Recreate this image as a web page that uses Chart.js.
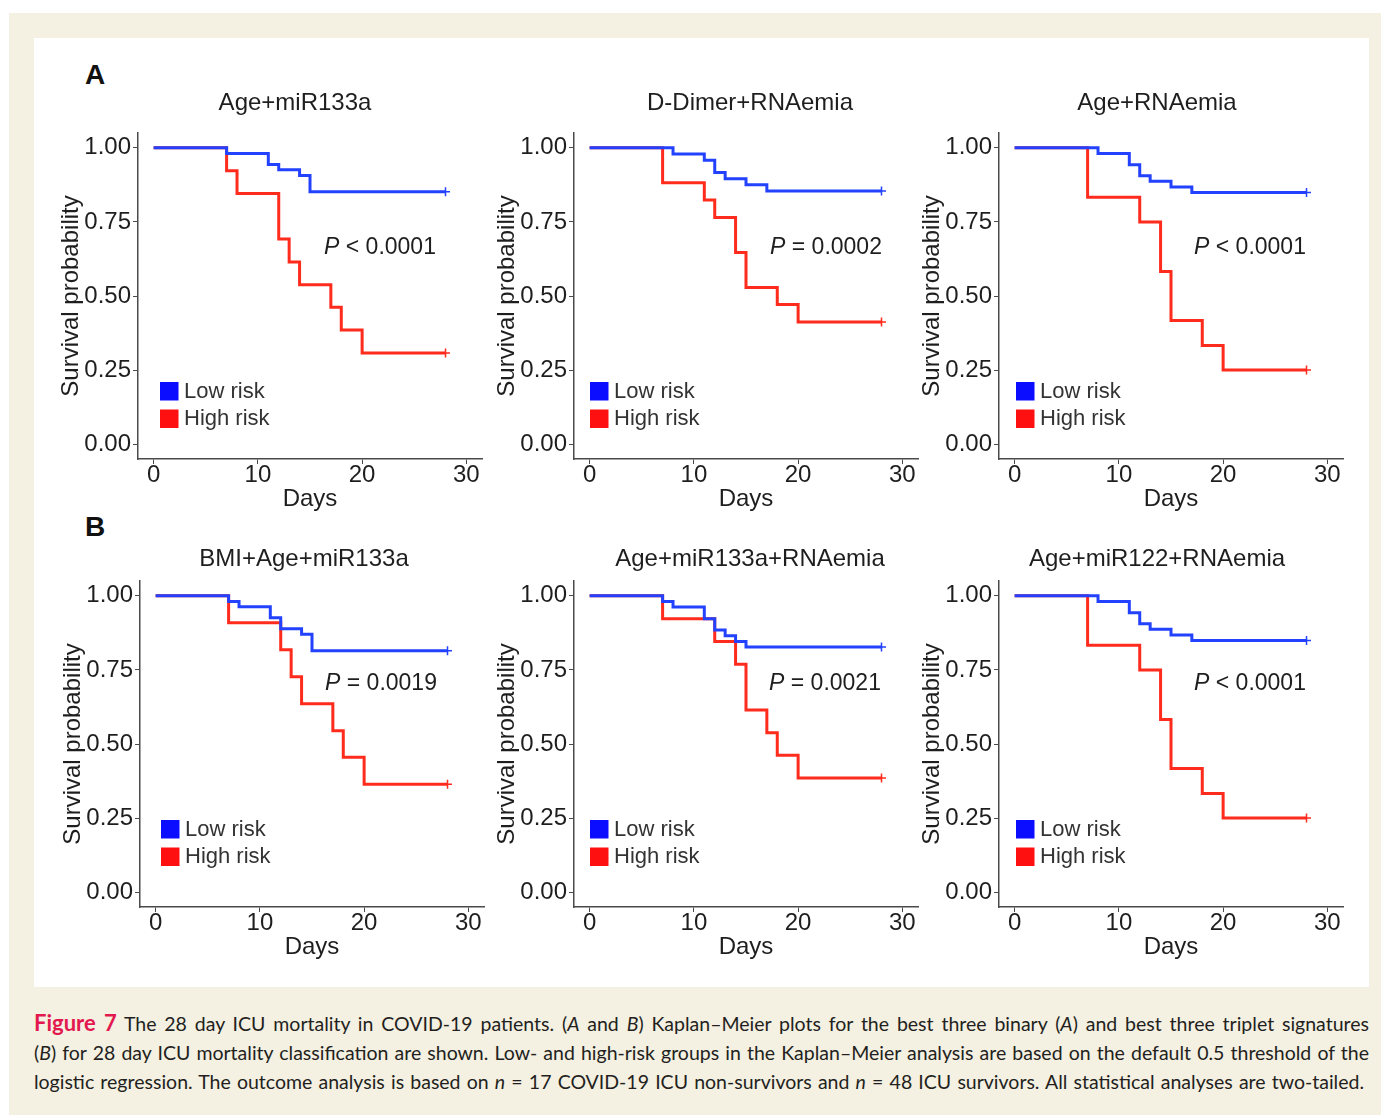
<!DOCTYPE html>
<html><head><meta charset="utf-8">
<script src="https://cdn.jsdelivr.net/npm/chart.js@4.4.1/dist/chart.umd.min.js"></script>
<style>
html,body{margin:0;padding:0;background:#fff;}
body{width:1381px;height:1115px;position:relative;overflow:hidden;}
#beige{position:absolute;left:9px;top:13px;width:1372px;height:1102px;background:#F4F0E2;}
#white{position:absolute;left:34px;top:38px;width:1335px;height:949px;background:#fff;}
canvas{position:absolute;}
.lbl{position:absolute;font:bold 28px "Liberation Sans",Arial,sans-serif;color:#111;line-height:28px;}
#caption{position:absolute;left:34px;top:1008px;width:1335px;font:19.5px Lato,"Noto Sans",sans-serif;color:#231f20;line-height:29px;}
.cl{text-align:justify;text-align-last:justify;white-space:nowrap;}
.fig{font-weight:bold;color:#E2184E;font-size:22px;}
</style></head>
<body>
<div id="beige"></div>
<div id="white"></div>
<div class="lbl" style="left:85px;top:61px;">A</div>
<div class="lbl" style="left:85px;top:513px;">B</div>
<canvas id="c0" width="454" height="466" style="left:38px;top:63px;"></canvas>
<canvas id="c1" width="454" height="466" style="left:474px;top:63px;"></canvas>
<canvas id="c2" width="454" height="466" style="left:899px;top:63px;"></canvas>
<canvas id="c3" width="454" height="466" style="left:40px;top:511px;"></canvas>
<canvas id="c4" width="454" height="466" style="left:474px;top:511px;"></canvas>
<canvas id="c5" width="454" height="466" style="left:899px;top:511px;"></canvas>
<div id="caption">
<div class="cl"><span class="fig">Figure 7</span> The 28 day ICU mortality in COVID-19 patients. (<i>A</i> and <i>B</i>) Kaplan–Meier plots for the best three binary (<i>A</i>) and best three triplet signatures</div>
<div class="cl">(<i>B</i>) for 28 day ICU mortality classification are shown. Low- and high-risk groups in the Kaplan–Meier analysis are based on the default 0.5 threshold of the</div>
<div class="cl" style="padding-right:5px;">logistic regression. The outcome analysis is based on <i>n</i> = 17 COVID-19 ICU non-survivors and <i>n</i> = 48 ICU survivors. All statistical analyses are two-tailed.</div>
</div>
<script>
// ---------- data ----------
const panelTitles = ['Age+miR133a','D-Dimer+RNAemia','Age+RNAemia','BMI+Age+miR133a','Age+miR133a+RNAemia','Age+miR122+RNAemia'];
const pValueTexts = ['< 0.0001','= 0.0002','< 0.0001','= 0.0019','= 0.0021','< 0.0001'];
const seriesNames = ['Low risk','High risk'];
const xTicks = [0,10,20,30];
const yTicks = [0,0.25,0.5,0.75,1];
const xAxisTitle = 'Days';
const yAxisTitle = 'Survival probability';

// Panel A1: Age+miR133a
const a1LowDays  = [0,7,11,12,14,15,28];
const a1LowSurv  = [1,0.981,0.944,0.926,0.907,0.852,0.852];
const a1HighDays = [0,7,8,12,13,14,17,18,20,28];
const a1HighSurv = [1,0.923,0.846,0.692,0.615,0.538,0.462,0.385,0.308,0.308];
// Panel A2: D-Dimer+RNAemia
const a2LowDays  = [0,8,11,12,13,15,17,28];
const a2LowSurv  = [1,0.979,0.958,0.917,0.896,0.875,0.854,0.854];
const a2HighDays = [0,7,11,12,14,15,18,20,28];
const a2HighSurv = [1,0.882,0.824,0.765,0.647,0.529,0.471,0.412,0.412];
// Panel A3: Age+RNAemia
const a3LowDays  = [0,8,11,12,13,15,17,28];
const a3LowSurv  = [1,0.981,0.943,0.906,0.887,0.868,0.849,0.849];
const a3HighDays = [0,7,12,14,15,18,20,28];
const a3HighSurv = [1,0.833,0.75,0.583,0.417,0.333,0.25,0.25];
// Panel B1: BMI+Age+miR133a
const b1LowDays  = [0,7,8,11,12,14,15,28];
const b1LowSurv  = [1,0.981,0.963,0.926,0.889,0.870,0.815,0.815];
const b1HighDays = [0,7,12,13,14,17,18,20,28];
const b1HighSurv = [1,0.909,0.818,0.727,0.636,0.545,0.455,0.364,0.364];
// Panel B2: Age+miR133a+RNAemia
const b2LowDays  = [0,7,8,11,12,13,14,15,28];
const b2LowSurv  = [1,0.981,0.962,0.923,0.885,0.865,0.846,0.827,0.827];
const b2HighDays = [0,7,12,14,15,17,18,20,28];
const b2HighSurv = [1,0.923,0.846,0.769,0.615,0.538,0.462,0.385,0.385];
// Panel B3: Age+miR122+RNAemia
const b3LowDays  = [0,8,11,12,13,15,17,28];
const b3LowSurv  = [1,0.981,0.943,0.906,0.887,0.868,0.849,0.849];
const b3HighDays = [0,7,12,14,15,18,20,28];
const b3HighSurv = [1,0.833,0.75,0.583,0.417,0.333,0.25,0.25];

const lowDays  = [a1LowDays,a2LowDays,a3LowDays,b1LowDays,b2LowDays,b3LowDays];
const lowSurv  = [a1LowSurv,a2LowSurv,a3LowSurv,b1LowSurv,b2LowSurv,b3LowSurv];
const highDays = [a1HighDays,a2HighDays,a3HighDays,b1HighDays,b2HighDays,b3HighDays];
const highSurv = [a1HighSurv,a2HighSurv,a3HighSurv,b1HighSurv,b2HighSurv,b3HighSurv];

// ---------- styling / layout (not data) ----------
const FONT = '"Liberation Sans", Arial, Helvetica, sans-serif';
const LINE_BLUE = '#2342ff', LINE_RED = '#ff2b1c';
const BOX_BLUE = '#0a0dff', BOX_RED = '#ff1010';
const TEXT = '#1e1e1e', AXIS = '#4a4a4a';
const panelLayout = [
  {titleDx:157, titleDy:30, pDx:242, pDy:115, legDx:22, legDy:0},
  {titleDx:176, titleDy:30, pDx:252, pDy:115, legDx:16, legDy:0},
  {titleDx:158, titleDy:30, pDx:251, pDy:115, legDx:17, legDy:0},
  {titleDx:164, titleDy:22, pDx:241, pDy:103, legDx:21, legDy:10},
  {titleDx:176, titleDy:22, pDx:251, pDy:103, legDx:16, legDy:10},
  {titleDx:158, titleDy:22, pDx:251, pDy:103, legDx:17, legDy:10}
];

const decor = {
  id: 'decor',
  afterDraw(chart, args, o) {
    const {ctx, chartArea: a} = chart;
    const L = o.layout;
    ctx.save();
    ctx.fillStyle = TEXT;
    // panel title
    ctx.font = '24px ' + FONT;
    ctx.textAlign = 'center'; ctx.textBaseline = 'middle';
    ctx.fillText(o.title, a.left + L.titleDx, a.top - L.titleDy);
    // x axis title
    ctx.fillText(xAxisTitle, (a.left + a.right) / 2, a.bottom + 40);
    // y axis title
    ctx.save();
    ctx.translate(a.left - 67, (a.top + a.bottom) / 2);
    ctx.rotate(-Math.PI / 2);
    ctx.fillText(yAxisTitle, 0, 0);
    ctx.restore();
    // p-value
    ctx.font = '23px ' + FONT;
    const rest = ' ' + o.pval;
    const wRest = ctx.measureText(rest).width;
    ctx.font = 'italic 23px ' + FONT;
    const wP = ctx.measureText('P').width;
    const x0 = a.left + L.pDx - (wP + wRest) / 2;
    const yP = a.top + L.pDy;
    ctx.textAlign = 'left';
    ctx.fillText('P', x0, yP);
    ctx.font = '23px ' + FONT;
    ctx.fillText(rest, x0 + wP, yP);
    // legend
    const lx = a.left + L.legDx;
    const boxes = [BOX_BLUE, BOX_RED];
    const tops = [a.bottom - 77 - L.legDy, a.bottom - 49.5 - L.legDy];
    ctx.font = '22px ' + FONT;
    for (let k = 0; k < 2; k++) {
      ctx.fillStyle = boxes[k];
      ctx.fillRect(lx, tops[k], 18.5, 18.5);
      ctx.fillStyle = '#333';
      ctx.fillText(seriesNames[k], lx + 24, tops[k] + 9.5);
    }
    ctx.restore();
  }
};

function mk(i) {
  const low = lowDays[i].map((d, k) => ({x: d, y: lowSurv[i][k]}));
  const high = highDays[i].map((d, k) => ({x: d, y: highSurv[i][k]}));
  const ds = (name, pts, col) => ({
    label: name, data: pts, borderColor: col, backgroundColor: col,
    borderWidth: 3, stepped: 'before', fill: false,
    pointStyle: 'cross', pointBorderColor: col, pointBorderWidth: 1.5,
    pointRadius: pts.map((_, k) => k === pts.length - 1 ? 4.5 : 0),
    pointHoverRadius: 0
  });
  const tickFont = {family: FONT, size: 24};
  new Chart(document.getElementById('c' + i), {
    type: 'line',
    data: {datasets: [ds(seriesNames[0], low, LINE_BLUE), ds(seriesNames[1], high, LINE_RED)]},
    options: {
      responsive: false, animation: false, devicePixelRatio: 1,
      layout: {padding: {top: 70, right: 10, left: 0, bottom: 0}},
      plugins: {
        legend: {display: false}, tooltip: {enabled: false},
        decor: {title: panelTitles[i], pval: pValueTexts[i], layout: panelLayout[i]}
      },
      scales: {
        x: {
          type: 'linear', min: -1.5, max: 31.5,
          afterBuildTicks: s => { s.ticks = xTicks.map(v => ({value: v})); },
          afterFit: s => { s.height = 70; },
          ticks: {font: tickFont, color: TEXT, padding: -3, maxRotation: 0, callback: v => String(v)},
          grid: {drawOnChartArea: false, drawTicks: true, tickLength: 5, color: AXIS, lineWidth: 1},
          border: {display: true, color: AXIS, width: 1.5}
        },
        y: {
          type: 'linear', min: -0.05, max: 1.05,
          afterBuildTicks: s => { s.ticks = yTicks.map(v => ({value: v})); },
          afterFit: s => { s.width = 100; },
          ticks: {font: tickFont, color: TEXT, padding: 2, callback: v => Number(v).toFixed(2)},
          grid: {drawOnChartArea: false, drawTicks: true, tickLength: 5, color: AXIS, lineWidth: 1},
          border: {display: true, color: AXIS, width: 1.5}
        }
      }
    },
    plugins: [decor]
  });
}
for (let i = 0; i < 6; i++) mk(i);
</script>
</body></html>
